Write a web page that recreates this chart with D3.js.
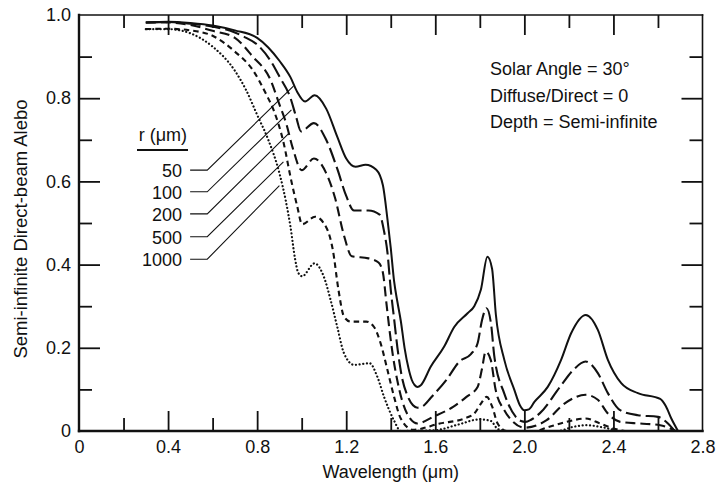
<!DOCTYPE html>
<html>
<head>
<meta charset="utf-8">
<script src="https://cdn.jsdelivr.net/npm/d3@7"></script>
<style>
  html, body { margin: 0; padding: 0; background: #fff; }
  svg { display: block; font-family: "Liberation Sans", Arial, Helvetica, sans-serif; }
  text { fill: #111; }
</style>
</head>
<body>
<svg id="chart" width="717" height="492"></svg>
<script>
// ---------------- DATA ----------------
const seriesNames = ["50", "100", "200", "500", "1000"];

const r50 = [[0.30,0.982],[0.40,0.984],[0.50,0.981],[0.60,0.975],[0.70,0.963],[0.80,0.945],[0.85,0.922],[0.90,0.89],[0.95,0.85],[0.98,0.815],[1.015,0.792],[1.058,0.807],[1.11,0.775],[1.16,0.707],[1.20,0.655],[1.242,0.635],[1.287,0.64],[1.335,0.628],[1.365,0.59],[1.385,0.51],[1.40,0.44],[1.415,0.36],[1.43,0.31],[1.445,0.265],[1.462,0.2],[1.48,0.15],[1.495,0.122],[1.508,0.11],[1.52,0.106],[1.535,0.11],[1.58,0.155],[1.64,0.203],[1.685,0.25],[1.745,0.283],[1.775,0.30],[1.805,0.34],[1.834,0.419],[1.855,0.39],[1.872,0.28],[1.91,0.171],[1.955,0.099],[1.98,0.062],[2.0,0.05],[2.02,0.052],[2.045,0.07],[2.105,0.106],[2.165,0.171],[2.21,0.235],[2.276,0.279],[2.33,0.243],[2.375,0.171],[2.435,0.115],[2.51,0.091],[2.61,0.077],[2.635,0.06],[2.66,0.03],[2.69,0.0]];

const r100 = [[0.30,0.982],[0.40,0.983],[0.50,0.979],[0.60,0.972],[0.68,0.962],[0.74,0.948],[0.81,0.924],[0.86,0.89],[0.90,0.852],[0.95,0.80],[0.975,0.755],[0.997,0.72],[1.055,0.74],[1.11,0.70],[1.16,0.63],[1.20,0.565],[1.235,0.53],[1.30,0.53],[1.35,0.52],[1.37,0.48],[1.385,0.43],[1.40,0.34],[1.415,0.27],[1.43,0.20],[1.45,0.13],[1.475,0.085],[1.50,0.062],[1.52,0.056],[1.545,0.06],[1.58,0.08],[1.65,0.123],[1.71,0.168],[1.76,0.185],[1.79,0.211],[1.81,0.267],[1.83,0.295],[1.85,0.259],[1.865,0.18],[1.91,0.09],[1.96,0.035],[1.985,0.024],[2.005,0.022],[2.03,0.027],[2.07,0.043],[2.16,0.106],[2.22,0.147],[2.275,0.167],[2.33,0.139],[2.375,0.091],[2.43,0.05],[2.51,0.038],[2.60,0.034],[2.645,0.018],[2.675,0.0]];

const r200 = [[0.30,0.982],[0.40,0.982],[0.50,0.976],[0.60,0.962],[0.70,0.945],[0.78,0.90],[0.86,0.844],[0.90,0.785],[0.93,0.74],[0.96,0.68],[1.0,0.627],[1.055,0.655],[1.11,0.62],[1.15,0.56],[1.19,0.47],[1.225,0.42],[1.30,0.415],[1.345,0.405],[1.365,0.38],[1.38,0.31],[1.395,0.24],[1.41,0.18],[1.43,0.12],[1.45,0.075],[1.475,0.04],[1.52,0.018],[1.59,0.034],[1.68,0.058],[1.74,0.082],[1.79,0.106],[1.81,0.15],[1.826,0.191],[1.849,0.171],[1.871,0.099],[1.91,0.05],[1.95,0.022],[2.0,0.008],[2.1,0.026],[2.18,0.066],[2.275,0.087],[2.33,0.075],[2.375,0.042],[2.43,0.022],[2.52,0.018],[2.61,0.014],[2.66,0.005],[2.68,0.0]];

const r500 = [[0.30,0.966],[0.40,0.967],[0.50,0.963],[0.60,0.95],[0.70,0.912],[0.78,0.868],[0.84,0.81],[0.875,0.77],[0.92,0.69],[0.95,0.61],[0.98,0.54],[1.002,0.497],[1.06,0.515],[1.11,0.49],[1.14,0.435],[1.165,0.34],[1.19,0.275],[1.22,0.263],[1.29,0.263],[1.325,0.25],[1.355,0.21],[1.385,0.147],[1.415,0.082],[1.445,0.03],[1.50,0.003],[1.62,0.018],[1.73,0.03],[1.775,0.042],[1.805,0.066],[1.831,0.082],[1.856,0.058],[1.88,0.018],[1.92,0.0],[2.05,0.0],[2.10,0.008],[2.19,0.022],[2.275,0.03],[2.34,0.018],[2.40,0.006],[2.45,0.0]];

const r1000 = [[0.30,0.966],[0.40,0.966],[0.50,0.956],[0.60,0.924],[0.70,0.866],[0.75,0.82],[0.80,0.76],[0.85,0.70],[0.90,0.62],[0.93,0.55],[0.95,0.49],[0.97,0.415],[0.985,0.38],[1.002,0.372],[1.058,0.403],[1.10,0.37],[1.13,0.315],[1.16,0.25],[1.19,0.187],[1.235,0.159],[1.305,0.163],[1.34,0.13],[1.37,0.082],[1.414,0.026],[1.445,0.0],[1.60,0.002],[1.70,0.015],[1.80,0.028],[1.85,0.024],[1.88,0.005],[1.92,0.0],[2.15,0.0],[2.22,0.01],[2.28,0.014],[2.34,0.01],[2.42,0.0]];

const xMajorTicks = [0, 0.4, 0.8, 1.2, 1.6, 2.0, 2.4, 2.8];
const xMinorTicks = [0.2, 0.6, 1.0, 1.4, 1.8, 2.2, 2.6];
const yMajorTicks = [0, 0.2, 0.4, 0.6, 0.8, 1.0];
const yMinorTicks = [0.1, 0.3, 0.5, 0.7, 0.9];
const yTickLabels = ["0", "0.2", "0.4", "0.6", "0.8", "1.0"];
const xTickLabels = ["0", "0.4", "0.8", "1.2", "1.6", "2.0", "2.4", "2.8"];

// leader lines: row level (albedo), and the point on the curve they point to
const leaderRows = [0.627, 0.575, 0.522, 0.467, 0.413];
const leaderTargets = [[0.963,0.829],[0.954,0.772],[0.940,0.714],[0.918,0.647],[0.900,0.590]];
const leaderStartX = 0.499, leaderKneeX = 0.576, legendLabelX = 0.463;

const annotations = ["Solar Angle = 30°", "Diffuse/Direct = 0", "Depth = Semi-infinite"];

// ---------------- CHART ----------------
const svg = d3.select("#chart");
const L = 79, R = 702.5, T = 15, B = 431;
const x = d3.scaleLinear().domain([0, 2.8]).range([L, R]);
const y = d3.scaleLinear().domain([0, 1.0]).range([B, T]);
const FS = 18;

// ticks (inward on all four sides)
function ticks(axisGen, tr, vals, size, labels) {
  const g = svg.append("g").attr("transform", tr)
    .call(axisGen.tickValues(vals).tickSize(size).tickSizeOuter(0)
      .tickPadding(labels ? 7 : 0)
      .tickFormat(labels ? ((d, i) => labels[i]) : () => ""));
  g.select(".domain").remove();
  g.selectAll(".tick line").attr("stroke", "#111").attr("stroke-width", 1.8);
  g.selectAll("text").attr("font-size", FS).attr("fill", "#111")
    .attr("font-family", "Liberation Sans, Arial, sans-serif");
  return g;
}
const yMajInner = yMajorTicks.filter(d => d > 0 && d < 1);
ticks(d3.axisLeft(y), `translate(${L},0)`, yMajInner, -21, null);
ticks(d3.axisLeft(y), `translate(${L},0)`, yMinorTicks, -13, null);
ticks(d3.axisRight(y), `translate(${R},0)`, yMajInner, -21, null);
ticks(d3.axisRight(y), `translate(${R},0)`, yMinorTicks, -13, null);
const xMajInner = xMajorTicks.filter(d => d > 0 && d < 2.8);
ticks(d3.axisBottom(x), `translate(0,${B})`, xMajInner, -20, null);
ticks(d3.axisBottom(x), `translate(0,${B})`, xMinorTicks, -13, null);
ticks(d3.axisTop(x), `translate(0,${T})`, xMajInner, -20, null);
ticks(d3.axisTop(x), `translate(0,${T})`, xMinorTicks, -13, null);

// tick labels via axes with zero-length ticks
const yl = ticks(d3.axisLeft(y), `translate(${L},0)`, yMajorTicks, 0, yTickLabels);
yl.selectAll(".tick text").attr("x", -8);
const xl = ticks(d3.axisBottom(x), `translate(0,${B})`, xMajorTicks, 0, xTickLabels);
xl.selectAll(".tick text").attr("y", 9);

// frame
const frame = svg.append("g").attr("stroke", "#111").attr("fill", "none").attr("stroke-linecap", "square");
frame.append("line").attr("x1", L).attr("x2", L).attr("y1", T).attr("y2", B).attr("stroke-width", 2.4);
frame.append("line").attr("x1", L).attr("x2", R).attr("y1", B).attr("y2", B).attr("stroke-width", 2.4);
frame.append("line").attr("x1", L).attr("x2", R).attr("y1", T).attr("y2", T).attr("stroke-width", 1.6);
frame.append("line").attr("x1", R).attr("x2", R).attr("y1", T).attr("y2", B).attr("stroke-width", 1.6);

// curves
const line = d3.line().x(d => x(d[0])).y(d => y(d[1])).curve(d3.curveMonotoneX);
const curves = [
  { data: r50,   dash: null,     width: 2.0, cap: "butt" },
  { data: r100,  dash: "15,5",   width: 2.1, cap: "butt" },
  { data: r200,  dash: "10,5",   width: 2.1, cap: "butt" },
  { data: r500,  dash: "5.5,4",  width: 2.1, cap: "butt" },
  { data: r1000, dash: "0.1,3.6", width: 2.2, cap: "round" }
];
svg.append("g").selectAll("path").data(curves).join("path")
  .attr("d", c => line(c.data))
  .attr("fill", "none").attr("stroke", "#111")
  .attr("stroke-width", c => c.width)
  .attr("stroke-dasharray", c => c.dash)
  .attr("stroke-linecap", c => c.cap)
  .attr("stroke-linejoin", "round");

// legend with leader lines
const lg = svg.append("g");
lg.append("text").attr("x", x(legendLabelX) + 5).attr("y", 141).attr("text-anchor", "end")
  .attr("font-size", FS).text("r (μm)");
lg.append("line").attr("x1", 137).attr("x2", 188).attr("y1", 150).attr("y2", 150)
  .attr("stroke", "#111").attr("stroke-width", 1.8);
seriesNames.forEach((name, i) => {
  lg.append("text").attr("x", x(legendLabelX)).attr("y", y(leaderRows[i]) + 7)
    .attr("text-anchor", "end").attr("font-size", FS).text(name);
  lg.append("path")
    .attr("d", d3.line()([[x(leaderStartX), y(leaderRows[i])], [x(leaderKneeX), y(leaderRows[i])],
      [x(leaderTargets[i][0]), y(leaderTargets[i][1])]]))
    .attr("fill", "none").attr("stroke", "#111").attr("stroke-width", 1.1);
});

// annotations
annotations.forEach((t, i) => {
  svg.append("text").attr("x", 490).attr("y", 75 + i * 26.5).attr("font-size", FS).text(t);
});

// axis titles
svg.append("text").attr("x", (L + R) / 2).attr("y", 478).attr("text-anchor", "middle")
  .attr("font-size", FS).text("Wavelength (μm)");
svg.append("text").attr("transform", `translate(27,${(T + B) / 2 + 6}) rotate(-90)`)
  .attr("text-anchor", "middle").attr("font-size", 18.5).text("Semi-infinite Direct-beam Alebo");
</script>
</body>
</html>
